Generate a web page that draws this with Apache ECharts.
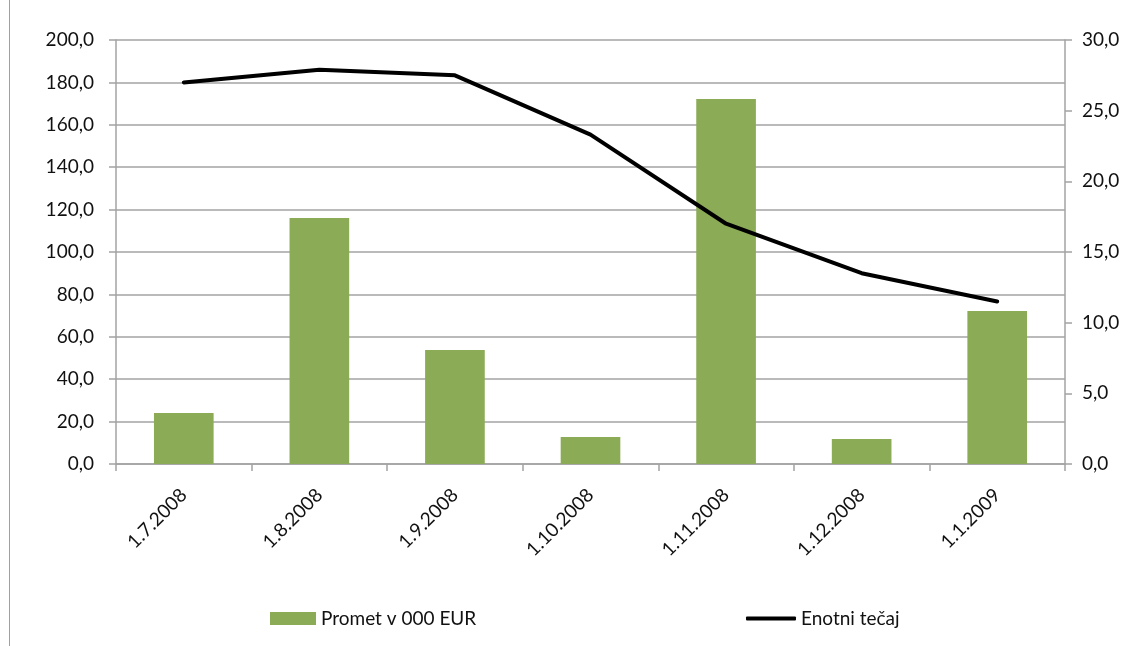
<!DOCTYPE html>
<html>
<head>
<meta charset="utf-8">
<script src="https://cdn.jsdelivr.net/npm/echarts@6/dist/echarts.min.js"></script>
<style>
  html, body { margin: 0; padding: 0; background: #fff; }
  #chart { width: 1147px; height: 646px; }
</style>
</head>
<body>
<div id="chart"></div>
<script>
// data
const categories = ['1.7.2008', '1.8.2008', '1.9.2008', '1.10.2008', '1.11.2008', '1.12.2008', '1.1.2009']
const prometValues = [24.0, 116.0, 53.8, 12.7, 172.2, 11.8, 72.2]
const tecajValues = [27.0, 27.9, 27.5, 23.3, 17.0, 13.5, 11.5]

const font = 'Lato, "DejaVu Sans", sans-serif'
const gridColor = '#a3a3a3'
const textColor = '#111'

const fmt = v => v.toFixed(1).replace('.', ',')

const chart = echarts.init(document.getElementById('chart'))

const option = {
  backgroundColor: '#fff',
  animation: false,
  textStyle: { fontFamily: font },
  grid: { left: 116, right: 82, top: 40, bottom: 182 },
  legend: [
    {
      data: [{ name: 'Promet v 000 EUR', icon: 'rect' }],
      left: 265, top: 604,
      itemWidth: 46, itemHeight: 13, itemGap: 5,
      textStyle: { fontSize: 19, color: textColor, fontFamily: font }
    },
    {
      data: [{ name: 'Enotni tečaj', icon: 'roundRect' }],
      left: 741, top: 604,
      itemWidth: 50, itemHeight: 4,
      textStyle: { fontSize: 19, color: textColor, fontFamily: font }
    }
  ],
  graphic: [
    {
      type: 'line',
      shape: { x1: 9.5, y1: 0, x2: 9.5, y2: 646 },
      style: { stroke: '#a0a0a0', lineWidth: 1 }
    }
  ],
  xAxis: {
    type: 'category',
    data: categories,
    boundaryGap: true,
    axisLine: { lineStyle: { color: gridColor, width: 1.5 } },
    axisTick: { show: true, length: 7, lineStyle: { color: gridColor, width: 1.5 } },
    axisLabel: { rotate: 45, margin: 28, fontSize: 19, color: textColor, fontFamily: font }
  },
  yAxis: [
    {
      type: 'value',
      min: 0, max: 200, interval: 20,
      axisLine: { show: true, lineStyle: { color: gridColor, width: 1.5 } },
      axisTick: { show: true, length: 7, lineStyle: { color: gridColor, width: 1.5 } },
      axisLabel: { formatter: fmt, fontSize: 19, color: textColor, margin: 22, fontFamily: font },
      splitLine: { lineStyle: { color: gridColor, width: 1.5 } }
    },
    {
      type: 'value',
      min: 0, max: 30, interval: 5,
      position: 'right',
      axisLine: { show: true, lineStyle: { color: gridColor, width: 1.5 } },
      axisTick: { show: true, length: 7, lineStyle: { color: gridColor, width: 1.5 } },
      axisLabel: { formatter: fmt, fontSize: 19, color: textColor, margin: 17, fontFamily: font },
      splitLine: { show: false }
    }
  ],
  series: [
    {
      name: 'Promet v 000 EUR',
      type: 'bar',
      data: prometValues,
      barWidth: '44%',
      itemStyle: { color: '#8bab56' }
    },
    {
      name: 'Enotni tečaj',
      type: 'line',
      yAxisIndex: 1,
      data: tecajValues,
      symbol: 'none',
      lineStyle: { color: '#000', width: 4, cap: 'round' },
      itemStyle: { color: '#000' }
    }
  ]
}

chart.setOption(option)
</script>
</body>
</html>
